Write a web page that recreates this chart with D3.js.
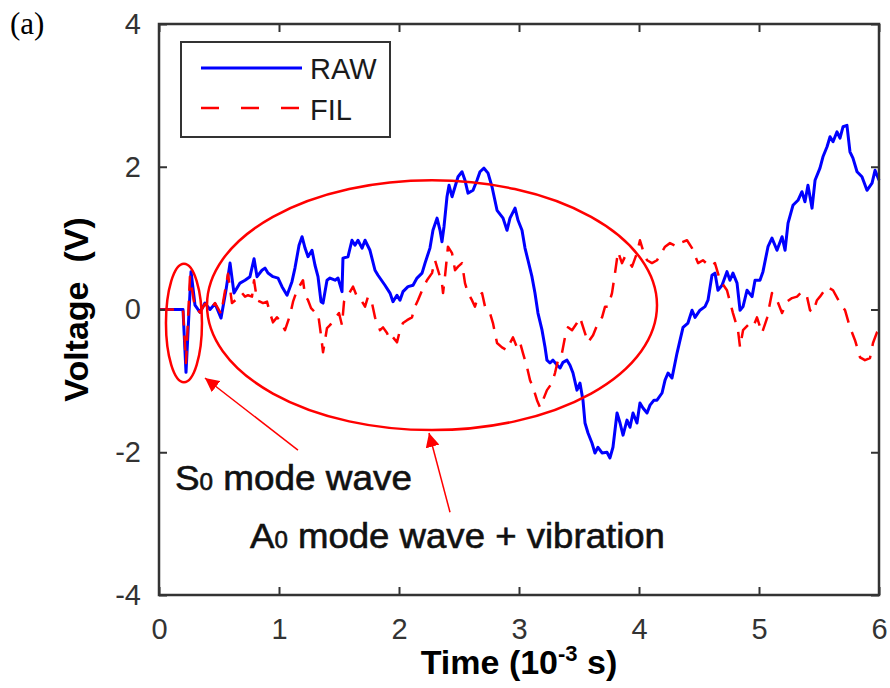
<!DOCTYPE html>
<html>
<head>
<meta charset="utf-8">
<script src="https://cdn.jsdelivr.net/npm/d3@7"></script>
<style>
  html, body { margin: 0; padding: 0; background: #fff; }
  svg { display: block; font-family: "Liberation Sans", Arial, sans-serif; }
</style>
</head>
<body>
<svg id="chart" width="890" height="688"></svg>
<script>
// ---------- data ----------
const xTicks = [0, 1, 2, 3, 4, 5, 6];
const yTicks = [-4, -2, 0, 2, 4];

// RAW signal: [time (10^-3 s), voltage (V)]
const rawT = [0, 0.2, 0.225, 0.267, 0.3, 0.342, 0.383, 0.425, 0.467, 0.517, 0.558, 0.592, 0.625, 0.675, 0.717, 0.758, 0.792, 0.817, 0.858, 0.883, 0.908, 0.95, 0.992, 1.025, 1.067, 1.108, 1.133, 1.167, 1.192, 1.217, 1.242, 1.275, 1.3, 1.325, 1.35, 1.367, 1.4, 1.425, 1.467, 1.492, 1.525, 1.533, 1.575, 1.608, 1.633, 1.658, 1.692, 1.717, 1.758, 1.8, 1.825, 1.883, 1.925, 1.95, 1.983, 2.008, 2.033, 2.075, 2.117, 2.15, 2.192, 2.217, 2.258, 2.283, 2.317, 2.342, 2.358, 2.375, 2.4, 2.417, 2.442, 2.467, 2.492, 2.525, 2.55, 2.575, 2.617, 2.65, 2.675, 2.708, 2.742, 2.775, 2.817, 2.867, 2.9, 2.925, 2.967, 2.992, 3.025, 3.05, 3.075, 3.108, 3.133, 3.158, 3.192, 3.217, 3.233, 3.258, 3.283, 3.317, 3.342, 3.367, 3.4, 3.425, 3.45, 3.483, 3.508, 3.533, 3.55, 3.575, 3.608, 3.633, 3.658, 3.692, 3.733, 3.758, 3.783, 3.817, 3.842, 3.867, 3.9, 3.925, 3.95, 3.983, 4.008, 4.033, 4.067, 4.092, 4.125, 4.15, 4.192, 4.217, 4.242, 4.275, 4.317, 4.342, 4.367, 4.408, 4.442, 4.467, 4.508, 4.55, 4.575, 4.608, 4.633, 4.658, 4.692, 4.733, 4.758, 4.783, 4.817, 4.842, 4.867, 4.9, 4.942, 4.967, 5.008, 5.033, 5.075, 5.108, 5.15, 5.192, 5.217, 5.242, 5.283, 5.325, 5.358, 5.383, 5.408, 5.442, 5.467, 5.508, 5.533, 5.567, 5.592, 5.617, 5.65, 5.675, 5.7, 5.733, 5.758, 5.783, 5.817, 5.858, 5.9, 5.942, 5.967, 6.0];
const rawV = [0, 0, -0.88, 0.53, 0.06, -0.04, 0.09, 0, 0.08, -0.12, 0.27, 0.65, 0.23, 0.37, 0.41, 0.46, 0.71, 0.46, 0.55, 0.58, 0.51, 0.46, 0.44, 0.32, 0.2, 0.39, 0.58, 0.9, 1.02, 0.86, 0.74, 0.83, 0.62, 0.46, 0.11, 0.09, 0.41, 0.44, 0.41, 0.44, 0.25, 0.72, 0.74, 0.97, 0.9, 0.97, 0.86, 0.97, 0.83, 0.55, 0.48, 0.34, 0.23, 0.11, 0.2, 0.13, 0.25, 0.32, 0.34, 0.44, 0.51, 0.65, 0.86, 1.11, 1.28, 1.11, 0.95, 1.16, 1.58, 1.74, 1.58, 1.72, 1.86, 1.93, 1.81, 1.63, 1.67, 1.81, 1.93, 1.98, 1.91, 1.72, 1.39, 1.28, 1.11, 1.28, 1.42, 1.25, 1.11, 0.86, 0.69, 0.46, 0.23, -0.05, -0.29, -0.53, -0.71, -0.75, -0.71, -0.78, -0.82, -0.74, -0.71, -0.78, -0.89, -1.13, -1.03, -1.27, -1.59, -1.73, -1.87, -2.01, -1.93, -2.01, -2.0, -2.08, -1.93, -1.45, -1.59, -1.76, -1.55, -1.65, -1.45, -1.59, -1.31, -1.38, -1.45, -1.34, -1.27, -1.27, -1.17, -0.99, -0.89, -0.96, -0.61, -0.43, -0.25, -0.19, -0.01, -0.11, -0.01, 0.04, 0.13, 0.48, 0.51, 0.27, 0.34, 0.53, 0.41, 0.51, 0.37, -0.01, 0.04, 0.27, 0.18, 0.41, 0.41, 0.53, 0.88, 1.0, 0.83, 1.02, 0.83, 1.21, 1.46, 1.53, 1.65, 1.51, 1.74, 1.42, 1.81, 1.98, 2.14, 2.28, 2.42, 2.35, 2.49, 2.4, 2.56, 2.58, 2.21, 2.12, 1.93, 1.86, 1.67, 1.77, 1.95, 1.81];

// FIL signal
const filT = [0, 0.2, 0.225, 0.258, 0.3, 0.342, 0.383, 0.425, 0.467, 0.517, 0.575, 0.608, 0.658, 0.692, 0.717, 0.742, 0.775, 0.792, 0.817, 0.842, 0.867, 0.9, 0.925, 0.95, 0.983, 1.008, 1.05, 1.092, 1.117, 1.15, 1.175, 1.2, 1.217, 1.242, 1.267, 1.3, 1.325, 1.35, 1.367, 1.4, 1.425, 1.467, 1.5, 1.525, 1.542, 1.575, 1.617, 1.65, 1.675, 1.717, 1.742, 1.775, 1.8, 1.842, 1.867, 1.9, 1.925, 1.95, 1.983, 2.008, 2.033, 2.067, 2.108, 2.133, 2.158, 2.2, 2.233, 2.275, 2.3, 2.325, 2.358, 2.367, 2.383, 2.408, 2.442, 2.467, 2.492, 2.525, 2.55, 2.575, 2.608, 2.633, 2.658, 2.692, 2.717, 2.758, 2.783, 2.817, 2.858, 2.9, 2.925, 2.95, 2.983, 3.008, 3.033, 3.067, 3.092, 3.117, 3.15, 3.175, 3.2, 3.233, 3.275, 3.3, 3.325, 3.358, 3.383, 3.408, 3.442, 3.483, 3.508, 3.55, 3.575, 3.617, 3.658, 3.692, 3.717, 3.742, 3.775, 3.8, 3.825, 3.858, 3.883, 3.908, 3.942, 3.983, 4.008, 4.033, 4.067, 4.108, 4.15, 4.217, 4.258, 4.317, 4.342, 4.4, 4.442, 4.492, 4.533, 4.592, 4.633, 4.675, 4.733, 4.783, 4.825, 4.842, 4.867, 4.908, 4.95, 4.983, 5.025, 5.067, 5.108, 5.15, 5.192, 5.233, 5.275, 5.317, 5.358, 5.4, 5.425, 5.45, 5.483, 5.508, 5.567, 5.617, 5.675, 5.717, 5.758, 5.8, 5.842, 5.883, 5.925, 5.95, 5.983, 6.0];
const filV = [0, 0, -0.75, 0.46, 0.02, -0.04, 0.08, 0, 0.09, -0.06, 0.5, 0.09, 0.16, 0.23, 0.18, 0.2, 0.18, 0.41, 0.13, 0.11, 0.09, 0.11, -0.05, -0.18, -0.11, -0.15, -0.29, -0.08, 0.11, 0.27, 0.34, 0.41, 0.2, 0.13, 0.02, -0.04, -0.05, -0.36, -0.6, -0.26, -0.22, -0.12, -0.05, -0.22, 0.11, 0.2, 0.32, 0.18, 0.16, 0.04, 0.18, 0.09, -0.11, -0.29, -0.25, -0.33, -0.43, -0.39, -0.46, -0.29, -0.19, -0.15, -0.11, 0.04, 0.13, 0.3, 0.41, 0.51, 0.69, 0.55, 0.37, 0.23, 0.46, 0.88, 0.79, 0.55, 0.6, 0.65, 0.37, 0.23, 0.13, 0.04, 0.18, 0.23, 0.04, -0.05, -0.19, -0.47, -0.53, -0.57, -0.47, -0.39, -0.53, -0.46, -0.61, -0.81, -0.99, -1.09, -1.27, -1.37, -1.27, -1.13, -1.03, -0.89, -0.71, -0.61, -0.39, -0.25, -0.29, -0.19, -0.11, -0.33, -0.46, -0.36, -0.19, -0.11, 0.04, 0.04, 0.23, 0.51, 0.81, 0.65, 0.74, 0.69, 0.6, 0.79, 0.97, 0.83, 0.69, 0.65, 0.69, 0.88, 0.93, 0.88, 0.93, 0.97, 0.86, 0.65, 0.69, 0.6, 0.65, 0.41, 0.27, -0.05, -0.29, -0.53, -0.29, -0.22, -0.25, -0.11, -0.33, -0.12, 0.23, 0.13, -0.05, 0.11, 0.16, 0.18, 0.25, 0.18, -0.01, -0.04, 0.13, 0.18, 0.32, 0.27, 0.09, -0.01, -0.25, -0.43, -0.67, -0.71, -0.68, -0.47, -0.32, -0.29];

// ---------- layout ----------
const width = 890, height = 688;
const plot = { left: 159, right: 879, top: 24, bottom: 595 };
const sans = "'Liberation Sans', Arial, sans-serif";

const svg = d3.select("#chart");
svg.append("rect").attr("width", width).attr("height", height).attr("fill", "#fff");

const x = d3.scaleLinear().domain([0, 6]).range([plot.left, plot.right]);
const y = d3.scaleLinear().domain([-4, 4]).range([plot.bottom, plot.top]);

const raw = rawT.map((t, i) => [t, rawV[i]]);
const fil = filT.map((t, i) => [t, filV[i]]);

const line = d3.line().x(d => x(d[0])).y(d => y(d[1]));

// ---------- curves ----------
svg.append("path")
  .attr("d", line(raw))
  .attr("fill", "none")
  .attr("stroke", "#0000ff")
  .attr("stroke-width", 3)
  .attr("stroke-linejoin", "round");

svg.append("path")
  .attr("d", line(fil))
  .attr("fill", "none")
  .attr("stroke", "#ff0000")
  .attr("stroke-width", 2.5)
  .attr("stroke-dasharray", "15,10")
  .attr("stroke-linejoin", "round");

// ---------- axes (box with inward ticks) ----------
const axisColor = "#333";
const tickLen = 8;
const plain = d => String(d); // hyphen minus, like the figure

function styleAxis(g) {
  g.select(".domain").remove();
  g.selectAll(".tick line").attr("stroke", axisColor).attr("stroke-width", 2);
  g.selectAll(".tick text")
    .attr("fill", "#333")
    .attr("font-size", 29)
    .attr("font-family", sans);
}

svg.append("g")
  .attr("transform", `translate(0,${plot.bottom})`)
  .call(d3.axisBottom(x).tickValues(xTicks).tickSize(-tickLen).tickPadding(23).tickFormat(plain))
  .call(styleAxis);

svg.append("g")
  .attr("transform", `translate(0,${plot.top})`)
  .call(d3.axisTop(x).tickValues(xTicks).tickSize(-tickLen).tickFormat(""))
  .call(styleAxis);

svg.append("g")
  .attr("transform", `translate(${plot.left},0)`)
  .call(d3.axisLeft(y).tickValues(yTicks).tickSize(-tickLen).tickPadding(18).tickFormat(plain))
  .call(styleAxis);

svg.append("g")
  .attr("transform", `translate(${plot.right},0)`)
  .call(d3.axisRight(y).tickValues(yTicks).tickSize(-tickLen).tickFormat(""))
  .call(styleAxis);

svg.append("rect")
  .attr("x", plot.left).attr("y", plot.top)
  .attr("width", plot.right - plot.left).attr("height", plot.bottom - plot.top)
  .attr("fill", "none").attr("stroke", axisColor).attr("stroke-width", 2.5);

// axis titles
svg.append("text")
  .attr("transform", `translate(88,${(plot.top + plot.bottom) / 2}) rotate(-90)`)
  .attr("text-anchor", "middle")
  .attr("font-family", sans)
  .attr("font-size", 34).attr("font-weight", "bold")
  .attr("xml:space", "preserve")
  .text("Voltage  (V)");

const xTitle = svg.append("text")
  .attr("x", (plot.left + plot.right) / 2).attr("y", 674)
  .attr("text-anchor", "middle")
  .attr("font-family", sans)
  .attr("font-size", 34).attr("font-weight", "bold");
xTitle.append("tspan").text("Time (10");
xTitle.append("tspan").attr("font-size", 22).attr("dy", -13).text("-3");
xTitle.append("tspan").attr("dy", 13).text(" s)");

// panel label
svg.append("text")
  .attr("x", 10).attr("y", 34)
  .attr("font-family", "'Liberation Serif', 'Times New Roman', serif")
  .attr("font-size", 31)
  .text("(a)");

// ---------- legend ----------
const lg = svg.append("g").attr("font-family", sans);
lg.append("rect")
  .attr("x", 181).attr("y", 42).attr("width", 209).attr("height", 95)
  .attr("fill", "#fff").attr("stroke", axisColor).attr("stroke-width", 2);
lg.append("line")
  .attr("x1", 201).attr("x2", 302).attr("y1", 68).attr("y2", 68)
  .attr("stroke", "#0000ff").attr("stroke-width", 3);
lg.append("line")
  .attr("x1", 201).attr("x2", 302).attr("y1", 108).attr("y2", 108)
  .attr("stroke", "#ff0000").attr("stroke-width", 2.5)
  .attr("stroke-dasharray", "18,22");
lg.append("text").attr("x", 310).attr("y", 79).attr("font-size", 29).attr("fill", "#1a1a1a").text("RAW");
lg.append("text").attr("x", 310).attr("y", 120).attr("font-size", 29).attr("fill", "#1a1a1a").text("FIL");

// ---------- annotations (data units) ----------
const ellipses = [
  { cx: 0.208, cy: -0.19, rx: 0.15, ry: 0.83 },
  { cx: 2.275, cy: 0.06, rx: 1.875, ry: 1.75 }
];
svg.selectAll("ellipse.mark")
  .data(ellipses)
  .join("ellipse")
  .attr("class", "mark")
  .attr("cx", d => x(d.cx)).attr("cy", d => y(d.cy))
  .attr("rx", d => x(d.rx) - x(0)).attr("ry", d => y(0) - y(d.ry))
  .attr("fill", "none").attr("stroke", "#ff0000").attr("stroke-width", 2.5);

svg.append("defs").append("marker")
  .attr("id", "head")
  .attr("viewBox", "0 0 10 10")
  .attr("refX", 10).attr("refY", 5)
  .attr("markerWidth", 14).attr("markerHeight", 14)
  .attr("markerUnits", "userSpaceOnUse")
  .attr("orient", "auto")
  .append("path").attr("d", "M0,0 L10,5 L0,10 Z").attr("fill", "#ff0000");

const arrows = [
  { from: [1.158, -1.97], to: [0.383, -0.96] },
  { from: [2.425, -2.84], to: [2.25, -1.73] }
];
svg.selectAll("line.arrow")
  .data(arrows)
  .join("line")
  .attr("class", "arrow")
  .attr("x1", d => x(d.from[0])).attr("y1", d => y(d.from[1]))
  .attr("x2", d => x(d.to[0])).attr("y2", d => y(d.to[1]))
  .attr("stroke", "#ff0000").attr("stroke-width", 1.5)
  .attr("marker-end", "url(#head)");

const labels = [
  { t: 0.133, v: -2.53, mode: "S", rest: " mode wave", len: 237 },
  { t: 0.758, v: -3.34, mode: "A", rest: " mode wave + vibration", len: 415 }
];
labels.forEach(d => {
  const txt = svg.append("text")
    .attr("x", x(d.t)).attr("y", y(d.v))
    .attr("font-family", sans)
    .attr("font-size", 35).attr("fill", "#111")
    .attr("stroke", "#111").attr("stroke-width", 0.6)
    .attr("textLength", d.len).attr("lengthAdjust", "spacingAndGlyphs");
  txt.append("tspan").text(d.mode);
  txt.append("tspan").attr("font-size", 23).text("0");
  txt.append("tspan").text(d.rest);
});
</script>
</body>
</html>
